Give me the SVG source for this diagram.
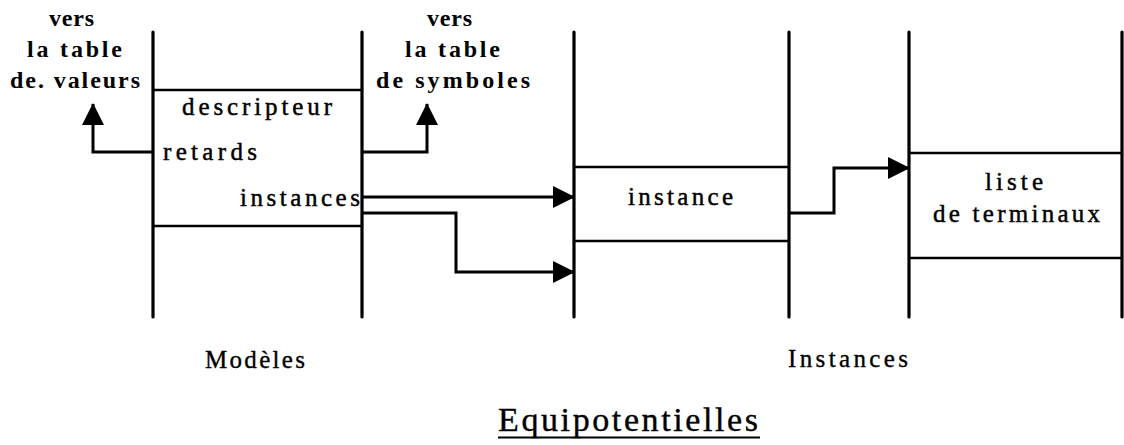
<svg xmlns="http://www.w3.org/2000/svg" width="1124" height="445" viewBox="0 0 1124 445">
<style>
.col{stroke:#000;stroke-width:3.2;fill:none;stroke-linecap:round}
.row{stroke:#000;stroke-width:2.6;fill:none}
.con{stroke:#000;stroke-width:3;fill:none}
.t{font-family:"Liberation Serif","Times New Roman",serif;font-size:25px;fill:#000;stroke:#000;stroke-width:0.45}
.b{font-family:"Liberation Serif","Times New Roman",serif;font-size:24px;font-weight:bold;fill:#000}
.lab{font-family:"Liberation Serif","Times New Roman",serif;font-size:25px;fill:#000;stroke:#000;stroke-width:0.35}
.title{font-family:"Liberation Serif","Times New Roman",serif;font-size:34px;fill:#000;stroke:#000;stroke-width:0.4}
</style>
<defs>
<marker id="ah" viewBox="0 0 22 22" refX="21" refY="11" markerWidth="22" markerHeight="22" markerUnits="userSpaceOnUse" orient="auto">
<path d="M0,0 L22,11 L0,22 z" fill="#000"/>
</marker>
</defs>
<rect width="1124" height="445" fill="#fff"/>

<g id="modeles">
<line class="col" x1="153" y1="32" x2="153" y2="317"/>
<line class="col" x1="362" y1="32" x2="362" y2="317"/>
<line class="row" x1="153" y1="90" x2="362" y2="90"/>
<line class="row" x1="153" y1="226" x2="362" y2="226"/>
<text class="t" x="182" y="115" textLength="150" lengthAdjust="spacing">descripteur</text>
<text class="t" x="163" y="160" textLength="94" lengthAdjust="spacing">retards</text>
<text class="t" x="240" y="206" textLength="120" lengthAdjust="spacing">instances</text>
</g>

<g id="instance">
<line class="col" x1="574" y1="32" x2="574" y2="317"/>
<line class="col" x1="789" y1="32" x2="789" y2="317"/>
<line class="row" x1="574" y1="167" x2="789" y2="167"/>
<line class="row" x1="574" y1="241" x2="789" y2="241"/>
<text class="t" x="628" y="205" textLength="105" lengthAdjust="spacing">instance</text>
</g>

<g id="terminaux">
<line class="col" x1="909" y1="32" x2="909" y2="317"/>
<line class="col" x1="1122" y1="32" x2="1122" y2="317"/>
<line class="row" x1="909" y1="153" x2="1122" y2="153"/>
<line class="row" x1="909" y1="258" x2="1122" y2="258"/>
<text class="t" x="985" y="190" textLength="58" lengthAdjust="spacing">liste</text>
<text class="t" x="933" y="222" textLength="167" lengthAdjust="spacing">de  terminaux</text>
</g>

<g id="table-valeurs">
<text class="b" x="49" y="26" textLength="45" lengthAdjust="spacing">vers</text>
<text class="b" x="27" y="57" textLength="95" lengthAdjust="spacing">la  table</text>
<text class="b" x="10" y="88" textLength="130" lengthAdjust="spacing">de. valeurs</text>
</g>

<g id="table-symboles">
<text class="b" x="427" y="26" textLength="45" lengthAdjust="spacing">vers</text>
<text class="b" x="405" y="57" textLength="95" lengthAdjust="spacing">la  table</text>
<text class="b" x="376" y="88" textLength="154" lengthAdjust="spacing">de  symboles</text>
</g>

<g id="labels">
<text class="lab" x="205" y="368" textLength="100" lengthAdjust="spacing">Modèles</text>
<text class="lab" x="788" y="367" textLength="120" lengthAdjust="spacing">Instances</text>
<text class="title" x="498" y="431" textLength="260" lengthAdjust="spacing">Equipotentielles</text>
<line x1="498" y1="437.5" x2="760" y2="437.5" stroke="#000" stroke-width="2"/>
</g>

<g id="connectors">
<path class="con" d="M153,152 H93 V104" marker-end="url(#ah)"/>
<path class="con" d="M362,152 H427 V104" marker-end="url(#ah)"/>
<path class="con" d="M362,197 H574" marker-end="url(#ah)"/>
<path class="con" d="M362,213 H456 V272 H574" marker-end="url(#ah)"/>
<path class="con" d="M789,213 H834 V168 H909" marker-end="url(#ah)"/>
</g>
</svg>
